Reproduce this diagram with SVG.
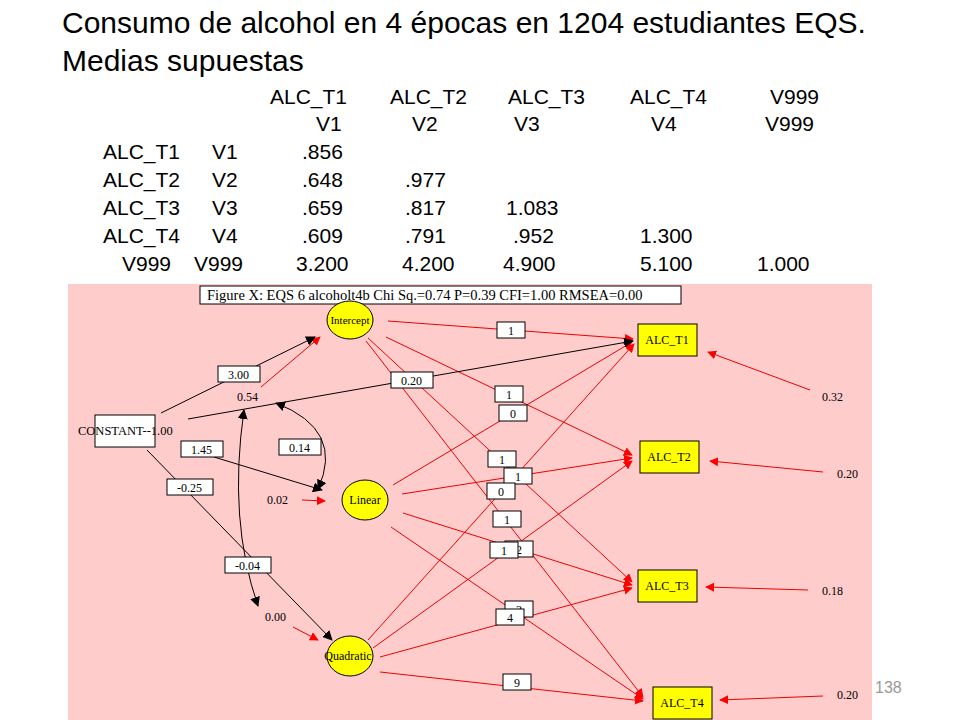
<svg xmlns="http://www.w3.org/2000/svg" width="960" height="720" viewBox="0 0 960 720">
<defs>
<marker id="ar" viewBox="0 0 10 10" refX="9" refY="5" markerWidth="9" markerHeight="9" markerUnits="userSpaceOnUse" orient="auto"><path d="M0,0L10,5L0,10z" fill="#ff0000"/></marker>
<marker id="ab" viewBox="0 0 10 10" refX="9" refY="5" markerWidth="10" markerHeight="10" markerUnits="userSpaceOnUse" orient="auto"><path d="M0,0L10,5L0,10z" fill="#000"/></marker>
<marker id="abs" viewBox="0 0 10 10" refX="1" refY="5" markerWidth="10" markerHeight="10" markerUnits="userSpaceOnUse" orient="auto"><path d="M10,0L0,5L10,10z" fill="#000"/></marker>
</defs>
<style>
.t{font-family:"Liberation Sans",Arial,sans-serif;fill:#000}
.h{font-size:30px}
.m{font-size:21px}
.s{font-family:"Liberation Serif","Times New Roman",serif;font-size:12px;fill:#000}
.lb{fill:#fff;stroke:#000;stroke-width:1}
.r{stroke:#ee0000;stroke-width:1;fill:none;marker-end:url(#ar)}
.k{stroke:#000;stroke-width:1;fill:none}
.n{fill:#ffff00;stroke:#000;stroke-width:1}
</style>
<rect width="960" height="720" fill="#fff"/>
<text class="t h" x="62" y="33">Consumo de alcohol en 4 épocas en 1204 estudiantes EQS.</text>
<text class="t h" x="62" y="71">Medias supuestas</text>
<g class="t m">
<text x="270" y="104">ALC_T1</text><text x="390" y="104">ALC_T2</text><text x="508" y="104">ALC_T3</text><text x="630" y="104">ALC_T4</text><text x="770" y="104">V999</text>
<text x="316" y="131">V1</text><text x="412" y="131">V2</text><text x="514" y="131">V3</text><text x="651" y="131">V4</text><text x="765" y="131">V999</text>
<text x="103" y="159">ALC_T1</text><text x="212" y="159">V1</text><text x="302" y="159">.856</text>
<text x="103" y="187">ALC_T2</text><text x="212" y="187">V2</text><text x="302" y="187">.648</text><text x="405" y="187">.977</text>
<text x="103" y="215">ALC_T3</text><text x="212" y="215">V3</text><text x="302" y="215">.659</text><text x="405" y="215">.817</text><text x="506" y="215">1.083</text>
<text x="103" y="243">ALC_T4</text><text x="212" y="243">V4</text><text x="302" y="243">.609</text><text x="405" y="243">.791</text><text x="513" y="243">.952</text><text x="640" y="243">1.300</text>
<text x="122" y="271">V999</text><text x="194" y="271">V999</text><text x="296" y="271">3.200</text><text x="402" y="271">4.200</text><text x="503" y="271">4.900</text><text x="640" y="271">5.100</text><text x="757" y="271">1.000</text>
</g>
<rect x="68" y="284" width="804" height="436" fill="#ffcccc"/>
<g id="title"><rect class="lb" x="200" y="286" width="481" height="18"/><text class="s" style="font-size:14.5px" x="207" y="300">Figure X: EQS 6 alcoholt4b Chi Sq.=0.74 P=0.39 CFI=1.00 RMSEA=0.00</text></g>
<g id="connectors">
<line class="r" x1="388" y1="321" x2="633" y2="339"/>
<line class="r" x1="386" y1="337" x2="632" y2="455"/>
<line class="r" x1="368" y1="338" x2="632" y2="582"/>
<line class="r" x1="366" y1="341" x2="643" y2="697"/>
<line class="r" x1="393" y1="485" x2="632" y2="342"/>
<line class="r" x1="402" y1="494" x2="632" y2="458"/>
<line class="r" x1="403" y1="513" x2="632" y2="585"/>
<line class="r" x1="391" y1="527" x2="643" y2="699"/>
<line class="r" x1="368" y1="640" x2="634" y2="344"/>
<line class="r" x1="373" y1="648" x2="632" y2="461"/>
<line class="r" x1="380" y1="657" x2="632" y2="588"/>
<line class="r" x1="380" y1="672" x2="643" y2="701"/>
<line class="r" x1="261" y1="387" x2="320" y2="337"/>
<line class="r" x1="302" y1="500" x2="325" y2="501"/>
<line class="r" x1="293" y1="627" x2="318" y2="640"/>
<line class="r" x1="810" y1="390" x2="708" y2="352"/>
<line class="r" x1="823" y1="472" x2="710" y2="461"/>
<line class="r" x1="808" y1="590" x2="706" y2="587"/>
<line class="r" x1="823" y1="696" x2="720" y2="700"/>
<line class="k" x1="161" y1="413" x2="315" y2="337" marker-end="url(#ab)"/>
<line class="k" x1="188" y1="419" x2="633" y2="341" marker-end="url(#ab)"/>
<line class="k" x1="214" y1="457" x2="322" y2="490" marker-end="url(#ab)"/>
<line class="k" x1="147" y1="450" x2="332" y2="640" marker-end="url(#ab)"/>
<path class="k" d="M276,403 Q345,430 318,489" marker-start="url(#abs)" marker-end="url(#ab)"/>
<path class="k" d="M244,410 Q228,520 258,606" marker-start="url(#abs)" marker-end="url(#ab)"/>
</g>
<g id="labels">
<rect class="lb" x="218" y="366" width="42" height="16"/><text class="s" x="228" y="379">3.00</text>
<rect class="lb" x="391" y="372" width="42" height="16"/><text class="s" x="401" y="385">0.20</text>
<rect class="lb" x="181" y="441" width="42" height="16"/><text class="s" x="191" y="454">1.45</text>
<rect class="lb" x="279" y="439" width="42" height="16"/><text class="s" x="289" y="452">0.14</text>
<rect class="lb" x="167" y="479" width="46" height="16"/><text class="s" x="177" y="492">-0.25</text>
<rect class="lb" x="225" y="557" width="46" height="16"/><text class="s" x="235" y="570">-0.04</text>
<rect class="lb" x="497" y="322" width="28" height="16"/><text class="s" x="508" y="335">1</text>
<rect class="lb" x="495" y="386" width="28" height="16"/><text class="s" x="506" y="399">1</text>
<rect class="lb" x="499" y="405" width="28" height="16"/><text class="s" x="510" y="418">0</text>
<rect class="lb" x="488" y="451" width="28" height="16"/><text class="s" x="499" y="464">1</text>
<rect class="lb" x="504" y="468" width="28" height="16"/><text class="s" x="515" y="481">1</text>
<rect class="lb" x="487" y="483" width="28" height="16"/><text class="s" x="498" y="496">0</text>
<rect class="lb" x="493" y="511" width="28" height="16"/><text class="s" x="504" y="524">1</text>
<rect class="lb" x="505" y="541" width="28" height="16"/><text class="s" x="516" y="554">2</text>
<rect class="lb" x="490" y="542" width="28" height="16"/><text class="s" x="501" y="555">1</text>
<rect class="lb" x="505" y="601" width="28" height="16"/><text class="s" x="516" y="614">3</text>
<rect class="lb" x="496" y="609" width="28" height="16"/><text class="s" x="507" y="622">4</text>
<rect class="lb" x="503" y="674" width="28" height="16"/><text class="s" x="514" y="687">9</text>
<text class="s" x="237" y="401">0.54</text>
<text class="s" x="267" y="504">0.02</text>
<text class="s" x="265" y="621">0.00</text>
<text class="s" x="822" y="401">0.32</text>
<text class="s" x="837" y="478">0.20</text>
<text class="s" x="822" y="595">0.18</text>
<text class="s" x="837" y="699">0.20</text>
</g>
<g id="constant"><rect class="lb" x="95" y="415" width="60" height="32"/><text class="s" style="font-size:12.5px" x="78" y="435">CONSTANT--1.00</text></g>
<g id="intercept"><ellipse class="n" cx="350" cy="320" rx="23" ry="19"/><text class="s" style="font-size:11px" x="350" y="324" text-anchor="middle">Intercept</text></g>
<g id="linear"><ellipse class="n" cx="365" cy="500" rx="23" ry="20"/><text class="s" x="365" y="504" text-anchor="middle">Linear</text></g>
<g id="quadratic"><ellipse class="n" cx="350" cy="656" rx="23" ry="20"/><text class="s" x="348" y="660" text-anchor="middle">Quadratic</text></g>
<g id="t1"><rect class="n" x="638" y="324" width="59" height="32"/><text class="s" x="667" y="344" text-anchor="middle">ALC_T1</text></g>
<g id="t2"><rect class="n" x="640" y="441" width="59" height="32"/><text class="s" x="669" y="461" text-anchor="middle">ALC_T2</text></g>
<g id="t3"><rect class="n" x="638" y="570" width="59" height="32"/><text class="s" x="667" y="590" text-anchor="middle">ALC_T3</text></g>
<g id="t4"><rect class="n" x="653" y="687" width="59" height="32"/><text class="s" x="682" y="707" text-anchor="middle">ALC_T4</text></g>
<text x="875" y="693" style="font-family:'Liberation Sans',sans-serif;font-size:16px;fill:#999">138</text>
</svg>
